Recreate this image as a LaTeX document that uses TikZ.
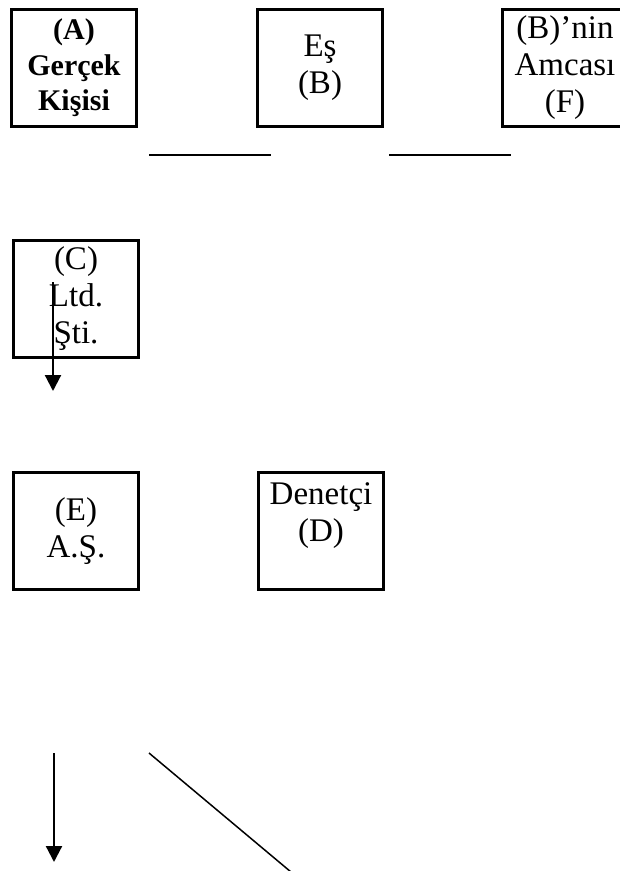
\documentclass[tikz,border=0pt]{standalone}
\usepackage{fontspec}
\setmainfont{Liberation Serif}
\usetikzlibrary{arrows.meta}

\tikzset{
  box/.style={draw, line width=3.3bp, minimum width=125bp, minimum height=117bp,
    inner sep=0pt, align=center, font=\fontsize{33bp}{37bp}\selectfont},
  boldbox/.style={box, line width=3.8bp, font=\fontsize{30bp}{35.5bp}\selectfont\bfseries},
  blank/.style={line width=2.3bp},
  down/.style={line width=2.2bp, -{Triangle[length=16bp,width=16bp]}},
}

\begin{document}
\begin{tikzpicture}[x=1bp,y=-1bp,line join=miter]
\useasboundingbox (0,0) rectangle (620,871);
%%
  % Node: A
  \node[boldbox] (A) at (74,68) {(A)\\Gerçek\\Kişisi};
  % Node: B
  \node[box] (B) at (320,68) {Eş\\(B)};
  % Node: F
  \node[box] (F) at (565,68) {(B)’nin\\Amcası\\(F)};
  % Node: C
  \node[box] (C) at (76,299) {(C)\\Ltd.\\Şti.};
  % Node: E
  \node[box] (E) at (76,531) {(E)\\A.Ş.};
  % Node: D
  \node[box] (D) at (321,531) {Denetçi\\(D)\\~};
%
  % blank lines under the top row
  \coordinate (b1l) at (149,155);
  \coordinate (b1r) at (271,155);
  \coordinate (b2l) at (389,155);
  \coordinate (b2r) at (511,155);
  \draw[blank] (b1l) -- (b1r);
  \draw[blank] (b2l) -- (b2r);
  % Edge: C -> down
  \coordinate (c1) at (53,282);
  \coordinate (c2) at (53,391);
  \draw[down] (c1) -- (c2);
  % Edge: bottom arrow
  \coordinate (e1) at (54,753);
  \coordinate (e2) at (54,862);
  \draw[down] (e1) -- (e2);
  % slanted line
  \coordinate (s1) at (149,753);
  \coordinate (s2) at (291,872);
  \draw[line width=1.5bp] (s1) -- (s2);
%
\end{tikzpicture}
\end{document}
